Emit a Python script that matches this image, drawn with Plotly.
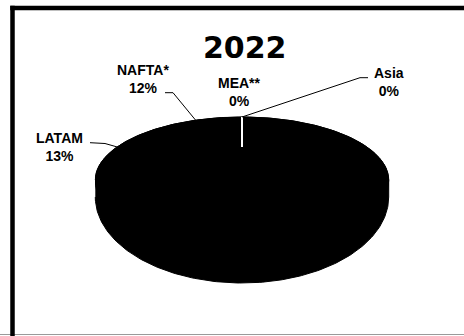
import numpy as np
import plotly.graph_objects as go

# ---------------- data ----------------
regions = ["Europe", "LATAM", "NAFTA*", "MEA**", "Asia"]
shares = [75, 13, 12, 0, 0]          # percent
show_label = [False, True, True, True, True]
title_text = "2022"

# ---------------- style / layout constants ----------------
W, H = 464, 336
CX, CY = 242.0, 180.0        # widest line of the tilted pie (pixels)
A = 146.7                    # horizontal semi-axis
B_FAR, B_NEAR = 63.0, 86.0   # perspective: far half flatter than near half
DEPTH = 17.0                 # pie thickness on screen
LAMBDA = 0.85                # perspective angle compression
WHITE_FRAC = 0.57            # visible part of the zero-slice border

LABEL_FONT = dict(family="Liberation Sans, Arial, sans-serif", size=14, color="black")
TITLE_FONT = dict(family="DejaVu Sans, sans-serif", size=30, color="black")

label_pos = {"LATAM": (59, 146.5), "NAFTA*": (143, 78.5),
             "MEA**": (239, 92), "Asia": (388.5, 81.5)}
leader_pts = {"LATAM": [(90, 142.7), (105, 143.5)],
              "NAFTA*": [(165, 92.7), (173, 92.7)],
              "Asia": [(368, 77.7), (360, 77.7)]}


def rim(phi_deg, drop=0.0):
    """Screen position of the top-face rim at true angle phi (clockwise from back)."""
    ph = np.radians(np.asarray(phi_deg, dtype=float))
    psi = 2 * np.arctan2(LAMBDA * np.sin(ph / 2), np.cos(ph / 2))
    c = np.cos(psi)
    b = np.where(c >= 0, B_FAR, B_NEAR)
    return CX + A * np.sin(psi), CY - b * c + drop


center_x = CX
center_y = CY - B_FAR * np.cos(2 * np.arctan(LAMBDA))

fig = go.Figure()

# pie body silhouette (far rim of top face + front side wall)
psi_far = np.radians(np.linspace(-90, 90, 181))
psi_near = np.radians(np.linspace(90, 270, 181))
body_x = np.concatenate([CX + A * np.sin(psi_far), CX + A * np.sin(psi_near)])
body_y = np.concatenate([CY - B_FAR * np.cos(psi_far),
                         CY - B_NEAR * np.cos(psi_near) + DEPTH])
fig.add_trace(go.Scatter(x=body_x, y=body_y, mode="lines", fill="toself",
                         fillcolor="black", line=dict(color="black", width=1),
                         hoverinfo="skip", showlegend=False))

# slices on the top face
total = float(sum(shares))
cum = 0.0
anchors = {}
boundaries = []
for name, s in zip(regions, shares):
    start = 360 * cum / total
    end = 360 * (cum + s) / total
    anchors[name] = rim(360 * (cum + s / 2) / total)
    if s == 0:
        boundaries.append(start)
    else:
        n = max(3, int(end - start) * 2)
        phis = np.linspace(start, end, n)
        rx, ry = rim(phis)
        xs = np.concatenate([[center_x], rx, [center_x]])
        ys = np.concatenate([[center_y], ry, [center_y]])
        fig.add_trace(go.Scatter(x=xs, y=ys, mode="lines", fill="toself",
                                 fillcolor="black", line=dict(color="black", width=1),
                                 hoverinfo="skip", showlegend=False))
    cum += s

# white border of the zero slices
for b in set(boundaries):
    bx, by = rim(b)
    ex = bx + (center_x - bx) * WHITE_FRAC
    ey = by + (center_y - by) * WHITE_FRAC
    fig.add_trace(go.Scatter(x=[bx, ex], y=[by, ey], mode="lines",
                             line=dict(color="white", width=2),
                             hoverinfo="skip", showlegend=False))

# labels and leader lines
for name, s, show in zip(regions, shares, show_label):
    if not show:
        continue
    lx, ly = label_pos[name]
    fig.add_annotation(x=lx, y=ly, xref="x", yref="y", showarrow=False,
                       text=f"<b>{name}<br>{s}%</b>", align="center",
                       xanchor="center", yanchor="middle", font=LABEL_FONT)
    if name in leader_pts:
        ax, ay = anchors[name]
        pts = leader_pts[name] + [(float(ax), float(ay))]
        fig.add_trace(go.Scatter(x=[p[0] for p in pts], y=[p[1] for p in pts],
                                 mode="lines", line=dict(color="black", width=1),
                                 hoverinfo="skip", showlegend=False))

# title
fig.add_annotation(x=244.5, y=47, xref="x", yref="y", showarrow=False,
                   text=f"<b>{title_text}</b>", xanchor="center", yanchor="middle",
                   font=TITLE_FONT)

# frame: thin grey bottom rule, thick black top and left edges
fig.add_shape(type="line", xref="x", yref="y", x0=0, x1=W, y0=334.5, y1=334.5,
              line=dict(color="#9a9a9a", width=1))
fig.add_shape(type="line", xref="x", yref="y", x0=10.25, x1=W, y0=8, y1=8,
              line=dict(color="black", width=4.5))
fig.add_shape(type="line", xref="x", yref="y", x0=12.5, x1=12.5, y0=5.75, y1=H,
              line=dict(color="black", width=4.5))

fig.update_layout(
    width=W, height=H, margin=dict(l=0, r=0, t=0, b=0),
    paper_bgcolor="white", plot_bgcolor="white",
    xaxis=dict(range=[0, W], visible=False, fixedrange=True),
    yaxis=dict(range=[H, 0], visible=False, fixedrange=True),
    showlegend=False,
)

fig.write_html(
    "out.html",
    config={"displayModeBar": False, "staticPlot": True},
    post_script="document.body.style.margin='0';document.body.style.overflow='hidden';",
)
